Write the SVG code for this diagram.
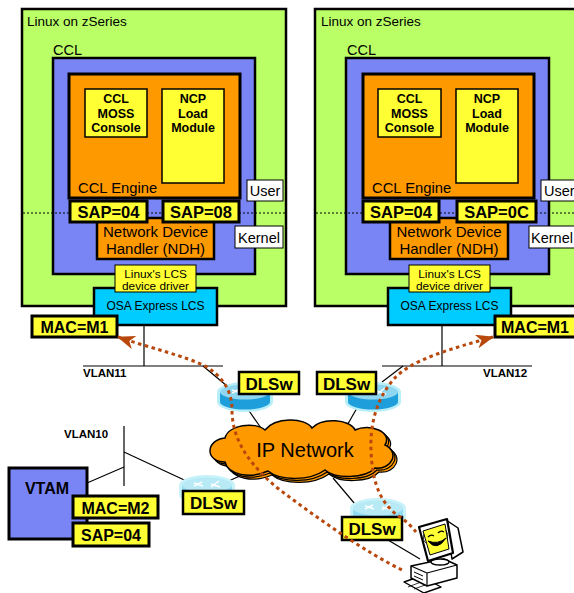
<svg xmlns="http://www.w3.org/2000/svg" width="574" height="593" viewBox="0 0 574 593">
  <style>
    text { font-family: "Liberation Sans", Arial, Helvetica, sans-serif; fill: #000; }
    .b { font-weight: bold; }
    .mid { text-anchor: middle; }
    .frame { stroke: #000; stroke-width: 2.5; }
    .thin { stroke: #000; stroke-width: 1; }
    .heavy { stroke: #000; stroke-width: 3; }
    .green { fill: #BBFF66; }
    .blue { fill: #7A85F5; }
    .orange { fill: #FF9900; }
    .yellow { fill: #FFFF33; }
    .cyan { fill: #00CCFF; }
    .white { fill: #FFFFFF; }
    .wire { stroke: #000; stroke-width: 1.2; fill: none; }
    .sep { stroke: #000; stroke-width: 1; stroke-dasharray: 2 2; fill: none; }
    .flow { stroke: #B8480C; stroke-width: 3; stroke-dasharray: 3.5 3.5; fill: none; }
  </style>
  <defs>
    <marker id="flowHead" viewBox="0 0 18 14" refX="17" refY="7" markerWidth="18" markerHeight="14" markerUnits="userSpaceOnUse" orient="auto-start-reverse">
      <path d="M0,0 L18,7 L0,14 L5,7 Z" fill="#B8480C"/>
    </marker>
    <path id="cloudShape" d="M225,462 C205,462 205,440 225,438 C228,425 255,421 265,430 C275,417 305,417 312,428 C322,417 350,419 355,430 C370,423 393,432 385,445 C400,452 392,470 375,468 C365,479 335,479 325,470 C310,481 280,481 268,471 C250,479 228,475 225,462 Z"/>
    <g id="routerDark">
      <path d="M-28,-5 A28,10 0 0 1 28,-5 L28,5 A28,10 0 0 1 -28,5 Z" fill="#B8EEF8"/>
      <path d="M-25,-5 L-25,5 A25,7.5 0 0 0 25,5 L25,-5 Z" fill="#1E9FDB"/>
      <ellipse cx="0" cy="-5" rx="25" ry="7.5" fill="#8FD6F0"/>
      <path d="M-13,-7 L-4,-4 M-5,-8 L-13,-4 M4,-6 L13,-3 M12,-9 L4,-3" stroke="#FFFFFF" stroke-width="1.4" fill="none"/>
    </g>
    <g id="routerLight">
      <path d="M-28,-5 A28,10 0 0 1 28,-5 L28,5 A28,10 0 0 1 -28,5 Z" fill="#C8F2FA"/>
      <path d="M-25,-5 L-25,5 A25,7.5 0 0 0 25,5 L25,-5 Z" fill="#8FDDF2"/>
      <ellipse cx="0" cy="-5" rx="25" ry="7.5" fill="#B8EAF6"/>
      <path d="M-13,-7 L-4,-4 M-5,-8 L-13,-4 M4,-6 L13,-3 M12,-9 L4,-3" stroke="#FFFFFF" stroke-width="1.4" fill="none"/>
    </g>
  </defs>

  <rect width="574" height="593" fill="#FFFFFF"/>

  <!-- left host: Linux on zSeries -->
  <g id="host-left">
    <rect class="green frame" x="22" y="9" width="264" height="297"/>
    <text x="27" y="26" font-size="13.5">Linux on zSeries</text>
    <text x="53" y="55" font-size="14.5">CCL</text>
    <rect class="blue frame" x="53" y="58" width="202" height="216"/>
    <rect class="orange heavy" x="69" y="74" width="171" height="124"/>
    <g id="moss-left">
      <rect class="yellow" stroke="#000" stroke-width="1.5" x="85" y="89" width="62" height="48"/>
      <text class="b mid" font-size="12.5" x="116" y="103">CCL</text>
      <text class="b mid" font-size="12.5" x="116" y="118">MOSS</text>
      <text class="b mid" font-size="12.5" x="116" y="132">Console</text>
    </g>
    <g id="ncp-left">
      <rect class="yellow" stroke="#000" stroke-width="1.5" x="162" y="89" width="62" height="94"/>
      <text class="b mid" font-size="12.5" x="193" y="103">NCP</text>
      <text class="b mid" font-size="12.5" x="193" y="118">Load</text>
      <text class="b mid" font-size="12.5" x="193" y="132">Module</text>
    </g>
    <text x="78" y="193" font-size="14.8">CCL Engine</text>
    <g id="ndh-left">
      <rect class="orange frame" x="97" y="218" width="117" height="41"/>
      <text class="mid" font-size="15" x="155.5" y="236.5">Network Device</text>
      <text class="mid" font-size="15" x="155.5" y="253.5">Handler (NDH)</text>
    </g>
    <line class="sep" x1="23" y1="213" x2="285" y2="213"/>
    <g id="sap04-left">
      <rect class="yellow heavy" x="70" y="201" width="77" height="21"/>
      <text class="b mid" font-size="16.5" x="108.5" y="218">SAP=04</text>
    </g>
    <g id="sap08-left">
      <rect class="yellow heavy" x="163" y="201" width="76" height="21"/>
      <text class="b mid" font-size="16.5" x="201" y="218">SAP=08</text>
    </g>
    <rect class="white thin" x="247" y="180" width="36" height="21"/>
    <text class="mid" font-size="14.5" x="265" y="196">User</text>
    <rect class="white thin" x="235" y="226" width="48" height="22"/>
    <text class="mid" font-size="14.5" x="259" y="242.5">Kernel</text>
    <g id="osa-left">
      <rect class="cyan frame" x="94" y="288" width="123" height="37"/>
      <text class="mid" font-size="12" x="155.5" y="310">OSA Express LCS</text>
    </g>
    <g id="lcs-driver-left">
      <rect class="yellow thin" x="115" y="265" width="81" height="27"/>
      <text class="mid" font-size="11.8" x="155.5" y="277.5">Linux's LCS</text>
      <text class="mid" font-size="11.8" x="155.5" y="290">device driver</text>
    </g>
    <g id="mac-left">
      <rect class="yellow heavy" x="32" y="316" width="85" height="21"/>
      <text class="b mid" font-size="16" x="74.5" y="333">MAC=M1</text>
    </g>
  </g>

  <!-- right host: Linux on zSeries -->
  <g id="host-right">
    <rect class="green frame" x="315" y="9" width="300" height="297"/>
    <text x="321" y="26" font-size="13.5">Linux on zSeries</text>
    <text x="347" y="55" font-size="14.5">CCL</text>
    <rect class="blue frame" x="346" y="58" width="203" height="216"/>
    <rect class="orange heavy" x="363" y="74" width="171" height="124"/>
    <g id="moss-right">
      <rect class="yellow" stroke="#000" stroke-width="1.5" x="378" y="89" width="63" height="48"/>
      <text class="b mid" font-size="12.5" x="409.5" y="103">CCL</text>
      <text class="b mid" font-size="12.5" x="409.5" y="118">MOSS</text>
      <text class="b mid" font-size="12.5" x="409.5" y="132">Console</text>
    </g>
    <g id="ncp-right">
      <rect class="yellow" stroke="#000" stroke-width="1.5" x="456" y="89" width="62" height="94"/>
      <text class="b mid" font-size="12.5" x="487" y="103">NCP</text>
      <text class="b mid" font-size="12.5" x="487" y="118">Load</text>
      <text class="b mid" font-size="12.5" x="487" y="132">Module</text>
    </g>
    <text x="372" y="193" font-size="14.8">CCL Engine</text>
    <g id="ndh-right">
      <rect class="orange frame" x="390" y="218" width="118" height="41"/>
      <text class="mid" font-size="15" x="449" y="236.5">Network Device</text>
      <text class="mid" font-size="15" x="449" y="253.5">Handler (NDH)</text>
    </g>
    <line class="sep" x1="316" y1="213" x2="574" y2="213"/>
    <g id="sap04-right">
      <rect class="yellow heavy" x="363" y="201" width="76" height="21"/>
      <text class="b mid" font-size="16.5" x="401" y="218">SAP=04</text>
    </g>
    <g id="sap0c-right">
      <rect class="yellow heavy" x="457" y="201" width="79" height="21"/>
      <text class="b mid" font-size="16.5" x="496.5" y="218">SAP=0C</text>
    </g>
    <rect class="white thin" x="541" y="180" width="40" height="21"/>
    <text font-size="14.5" x="544" y="196">User</text>
    <rect class="white thin" x="529" y="226" width="50" height="22"/>
    <text font-size="14.5" x="531" y="242.5">Kernel</text>
    <g id="osa-right">
      <rect class="cyan frame" x="388" y="288" width="123" height="37"/>
      <text class="mid" font-size="12" x="449.5" y="310">OSA Express LCS</text>
    </g>
    <g id="lcs-driver-right">
      <rect class="yellow thin" x="409" y="265" width="81" height="27"/>
      <text class="mid" font-size="11.8" x="449.5" y="277.5">Linux's LCS</text>
      <text class="mid" font-size="11.8" x="449.5" y="290">device driver</text>
    </g>
    <g id="mac-right">
      <rect class="yellow heavy" x="495" y="316" width="85" height="21"/>
      <text class="b" font-size="16" x="501" y="333">MAC=M1</text>
    </g>
  </g>

  <!-- LAN segments and links -->
  <g id="connectors">
    <line class="wire" x1="144" y1="325" x2="144" y2="366"/>
    <line class="wire" x1="83" y1="366" x2="223" y2="366"/>
    <line class="wire" x1="203" y1="366" x2="233" y2="391"/>
    <line class="wire" x1="442" y1="325" x2="442" y2="366"/>
    <line class="wire" x1="382" y1="366" x2="532" y2="366"/>
    <line class="wire" x1="403" y1="366" x2="382" y2="382"/>
    <line class="wire" x1="247" y1="408" x2="261" y2="428"/>
    <line class="wire" x1="357" y1="408" x2="345" y2="429"/>
    <line class="wire" x1="251" y1="471" x2="222" y2="484"/>
    <line class="wire" x1="333" y1="478" x2="360" y2="510"/>
    <line class="wire" x1="124" y1="426" x2="124" y2="486"/>
    <line class="wire" x1="124" y1="452" x2="195" y2="485"/>
    <line class="wire" x1="87" y1="483" x2="124" y2="467"/>
    <line class="wire" x1="388" y1="540" x2="420" y2="559"/>
  </g>

  <g id="vlan-labels">
    <text class="b" font-size="11.5" x="83" y="377">VLAN11</text>
    <text class="b" font-size="11.5" x="483" y="377">VLAN12</text>
    <text class="b" font-size="11.5" x="64" y="438">VLAN10</text>
  </g>

  <!-- IP network cloud, drawn as stacked outlines -->
  <g id="ip-network">
    <use href="#cloudShape" transform="translate(4,4)" fill="#FF9900" stroke="#000" stroke-width="1.2"/>
    <use href="#cloudShape" transform="translate(2,2)" fill="#FF9900" stroke="#000" stroke-width="1.2"/>
    <use href="#cloudShape" fill="#FF9900" stroke="#000" stroke-width="1.5"/>
    <text class="mid" font-size="20" x="305" y="457">IP Network</text>
  </g>

  <!-- DLSw routers -->
  <g id="dlsw-top-left">
    <use href="#routerDark" x="245" y="397"/>
    <rect class="yellow frame" x="239" y="372" width="60" height="22"/>
    <text class="b mid" font-size="17" x="269" y="389.5">DLSw</text>
  </g>
  <g id="dlsw-top-right">
    <use href="#routerDark" x="373" y="397"/>
    <rect class="yellow frame" x="317" y="372" width="59" height="22"/>
    <text class="b mid" font-size="17" x="346.5" y="389.5">DLSw</text>
  </g>
  <g id="dlsw-bottom-left">
    <use href="#routerLight" x="207" y="490"/>
    <rect class="yellow frame" x="183" y="491" width="61" height="23"/>
    <text class="b mid" font-size="17" x="213.5" y="509">DLSw</text>
  </g>
  <g id="dlsw-bottom-right">
    <use href="#routerLight" x="378" y="513"/>
    <rect class="yellow frame" x="342" y="517" width="60" height="23"/>
    <text class="b mid" font-size="17" x="372" y="535">DLSw</text>
  </g>

  <!-- VTAM host -->
  <g id="vtam">
    <rect class="blue heavy" x="9" y="468" width="78" height="71"/>
    <text class="b mid" font-size="16" x="47" y="494">VTAM</text>
    <rect class="yellow heavy" x="73" y="496" width="85" height="22"/>
    <text class="b mid" font-size="16" x="115.5" y="513.5">MAC=M2</text>
    <rect class="yellow heavy" x="73" y="523" width="76" height="23"/>
    <text class="b mid" font-size="16" x="111" y="541">SAP=04</text>
  </g>

  <!-- end-user workstation -->
  <g id="workstation" stroke="#000" stroke-linejoin="round">
    <path d="M404,582 L421,576 L441,587 L424,593 Z" fill="#FFFFFF" stroke-width="1.4"/>
    <path d="M408,587 L421,582 M414,589 L428,584" stroke-width="0.8" fill="none"/>
    <path d="M411,566 L444,559 L457,565 L457,578 L427,586 L411,578 Z" fill="#FFFFFF" stroke-width="1.5"/>
    <path d="M411,566 L427,573 L457,565 M427,573 L427,586" fill="none" stroke-width="1.2"/>
    <path d="M414,572 L423,576 M414,576 L423,580" fill="none" stroke-width="1"/>
    <ellipse cx="440" cy="562" rx="9" ry="3" fill="#FFFFFF" stroke-width="1.3"/>
    <path d="M446,520 L458,528 L463,552 L452,559 Z" fill="#FFFFFF" stroke-width="1.5"/>
    <path d="M419,527 L447,519 L453,553 L428,561 Z" fill="#FFFFFF" stroke-width="2.2"/>
    <path d="M423,531 L445,524 L449,549 L430,555 Z" fill="#FFFF33" stroke-width="1"/>
    <path d="M428,537 Q431,534 434,536 M438,533 Q441,530 444,532" fill="none" stroke-width="1.2"/>
    <path d="M428,541 Q437,552 446,538 Q438,545 428,541 Z" fill="#000" stroke-width="1"/>
    <path d="M424,534 Q422,540 426,543 M446,530 Q449,535 447,539" fill="none" stroke-width="0.8"/>
  </g>

  <!-- DLSw session paths -->
  <g id="flows">
    <path class="flow" marker-start="url(#flowHead)" d="M118,337 C150,348 185,356 205,366 C222,376 232,390 232,410 C232,440 250,466 280,490 C320,520 365,552 404,571"/>
    <path class="flow" marker-start="url(#flowHead)" d="M493,337 C450,349 410,360 393,380 C376,400 370,425 371,450 C372,485 382,505 400,517 C407,522 412,527 416,532"/>
  </g>
</svg>
